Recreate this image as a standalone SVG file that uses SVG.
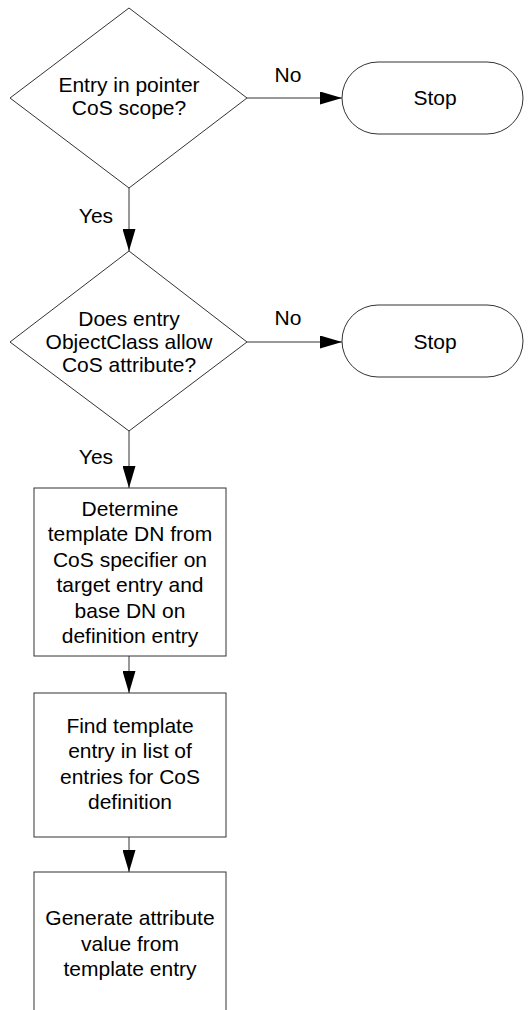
<svg xmlns="http://www.w3.org/2000/svg" width="530" height="1010" viewBox="0 0 530 1010">
<style>
.shape{fill:#fff;stroke:#333;stroke-width:1}
.t{font-family:"Liberation Sans",Arial,sans-serif;font-size:21px;fill:#000;text-anchor:middle}
.c{stroke:#333;stroke-width:1;fill:none;marker-end:url(#ah)}
</style>
<defs>
<marker id="ah" markerUnits="userSpaceOnUse" markerWidth="22" markerHeight="13" refX="22" refY="6.5" orient="auto">
<path d="M0,0 L22,6.5 L0,13 z" fill="#000"/>
</marker>
</defs>
<rect width="530" height="1010" fill="#fff"/>
<g id="connectors">
<line class="c" x1="247" y1="98" x2="342" y2="98"/>
<line class="c" x1="129" y1="188" x2="129" y2="251"/>
<line class="c" x1="247" y1="342" x2="342" y2="342"/>
<line class="c" x1="129" y1="431" x2="129" y2="488"/>
<line class="c" x1="129" y1="656" x2="129" y2="693"/>
<line class="c" x1="129" y1="837" x2="129" y2="872"/>
<text class="t" x="288" y="82">No</text>
<text class="t" x="96" y="223">Yes</text>
<text class="t" x="288" y="325">No</text>
<text class="t" x="96" y="464">Yes</text>
</g>
<g id="d1">
<polygon class="shape" points="129,8 247,98 129,188 10,98"/>
<text class="t" x="129" y="92">Entry in pointer</text>
<text class="t" x="129" y="115">CoS scope?</text>
</g>
<g id="stop1">
<rect class="shape" x="342" y="62" width="181" height="72" rx="36" ry="36"/>
<text class="t" x="435" y="105">Stop</text>
</g>
<g id="d2">
<polygon class="shape" points="129,251 247,342 129,431 10,342"/>
<text class="t" x="129" y="326">Does entry</text>
<text class="t" x="129" y="349">ObjectClass allow</text>
<text class="t" x="129" y="372">CoS attribute?</text>
</g>
<g id="stop2">
<rect class="shape" x="342" y="305" width="181" height="72" rx="36" ry="36"/>
<text class="t" x="435" y="349">Stop</text>
</g>
<g id="b1">
<rect class="shape" x="34" y="488" width="192" height="168"/>
<text class="t" x="130" y="516">Determine</text>
<text class="t" x="130" y="541">template DN from</text>
<text class="t" x="130" y="567">CoS specifier on</text>
<text class="t" x="130" y="592">target entry and</text>
<text class="t" x="130" y="618">base DN on</text>
<text class="t" x="130" y="643">definition entry</text>
</g>
<g id="b2">
<rect class="shape" x="34" y="693" width="192" height="144"/>
<text class="t" x="130" y="733">Find template</text>
<text class="t" x="130" y="758">entry in list of</text>
<text class="t" x="130" y="784">entries for CoS</text>
<text class="t" x="130" y="809">definition</text>
</g>
<g id="b3">
<rect class="shape" x="34" y="872" width="192" height="150"/>
<text class="t" x="130" y="925">Generate attribute</text>
<text class="t" x="130" y="951">value from</text>
<text class="t" x="130" y="976">template entry</text>
</g>
</svg>
